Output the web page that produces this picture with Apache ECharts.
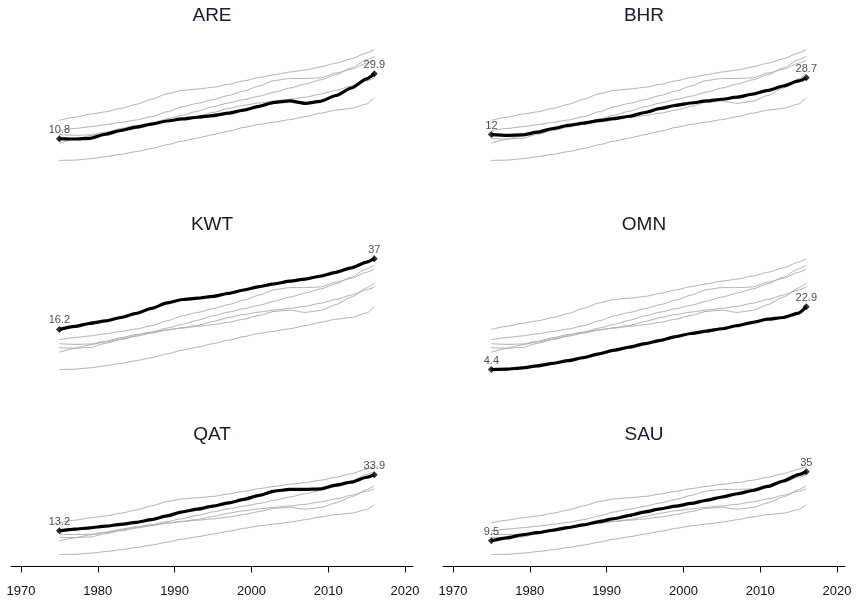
<!DOCTYPE html>
<html>
<head>
<meta charset="utf-8">
<script src="https://cdn.jsdelivr.net/npm/echarts@6/dist/echarts.min.js"></script>
<style>
  html, body { margin: 0; padding: 0; background: #fff; }
  #chart { width: 856px; height: 607px; }
</style>
</head>
<body>
<div id="chart"></div>
<script>
// Sample years shared by every country series
const years = [1975, 1977, 1979, 1981, 1983, 1985, 1987, 1989, 1991, 1993, 1995,
               1997, 1999, 2001, 2003, 2005, 2007, 2009, 2011, 2013, 2015, 2016];

const ARE = [10.8, 10.7, 10.9, 12.1, 13.2, 14.2, 15.1, 16.0, 16.6, 17.1, 17.6,
             18.3, 19.2, 20.3, 21.5, 21.9, 21.2, 21.8, 23.5, 25.7, 28.4, 29.9];
const BHR = [12.0, 11.8, 11.9, 12.7, 13.8, 14.7, 15.4, 16.1, 16.7, 17.4, 18.5,
             19.7, 20.6, 21.3, 21.9, 22.4, 23.0, 23.9, 25.0, 26.3, 27.8, 28.7];
const KWT = [16.2, 17.1, 18.0, 18.7, 19.7, 20.9, 22.4, 24.0, 25.0, 25.4, 25.9,
             26.8, 27.8, 28.8, 29.6, 30.4, 31.0, 31.9, 33.0, 34.3, 36.0, 37.0];
const OMN = [4.4, 4.5, 4.9, 5.5, 6.2, 7.0, 7.9, 9.0, 10.1, 11.0, 12.0,
             13.0, 14.1, 15.0, 15.7, 16.4, 17.3, 18.3, 19.2, 19.7, 21.0, 22.9];
const QAT = [13.2, 13.8, 14.3, 14.9, 15.6, 16.3, 17.3, 18.7, 20.2, 21.2, 22.3,
             23.5, 24.8, 26.3, 27.9, 28.5, 28.5, 28.7, 30.1, 31.2, 33.0, 33.9];
const SAU = [9.5, 10.6, 11.7, 12.5, 13.4, 14.4, 15.4, 16.6, 17.7, 18.9, 20.2,
             21.3, 22.3, 23.3, 24.5, 25.7, 26.9, 28.1, 29.6, 31.6, 34.0, 35.0];

const countries = ['ARE', 'BHR', 'KWT', 'OMN', 'QAT', 'SAU'];
const seriesByCountry = { ARE, BHR, KWT, OMN, QAT, SAU };

// Year ticks along the bottom axes
const tickYears = [1970, 1980, 1990, 2000, 2010, 2020];
const tickLabels = ['1970', '1980', '1990', '2000', '2010', '2020'];

// Panel geometry (3 rows x 2 columns)
const colLeft = [11, 443];
const colWidth = 402;
const rowTop = [39.4, 248.5, 458.3];
const rowHeight = [136, 136, 108.2];
const titleTop = [6.5, 215, 425.5];
const FONT = 'Liberation Sans, Arial, Helvetica, sans-serif';

const grids = [], xAxes = [], yAxes = [], titles = [], series = [];

countries.forEach((name, p) => {
  const row = Math.floor(p / 2), col = p % 2;
  const isBottom = row === 2;
  grids.push({ left: colLeft[col], top: rowTop[row], width: colWidth, height: rowHeight[row] });
  xAxes.push({
    gridIndex: p, type: 'value', min: 1968.7, max: 2021.04,
    show: true, offset: isBottom ? 9.5 : 0,
    axisLine: { show: isBottom, lineStyle: { color: '#000', width: 1 } },
    axisTick: { show: isBottom, customValues: tickYears, length: 6, lineStyle: { color: '#000' } },
    axisLabel: {
      show: isBottom, customValues: tickYears, margin: 9,
      fontFamily: FONT, fontSize: 13, color: '#111',
      formatter: v => tickLabels[tickYears.indexOf(Math.round(v))] ?? ''
    },
    splitLine: { show: false }
  });
  yAxes.push({ gridIndex: p, type: 'value', min: 0, max: 40, show: false });
  titles.push({
    text: name, left: colLeft[col] + colWidth / 2, top: titleTop[row], textAlign: 'center', padding: 0,
    textStyle: { fontFamily: FONT, fontSize: 19, fontWeight: 'normal', color: '#151a2c' }
  });

  // other countries in grey
  countries.forEach(other => {
    if (other === name) return;
    series.push({
      type: 'line', xAxisIndex: p, yAxisIndex: p, silent: true, symbol: 'none',
      smooth: 0.2, smoothMonotone: 'x',
      lineStyle: { color: '#b0b0b0', width: 1 }, z: 2,
      data: years.map((y, i) => [y, seriesByCountry[other][i]])
    });
  });

  // highlighted country in bold black
  const vals = seriesByCountry[name];
  series.push({
    type: 'line', xAxisIndex: p, yAxisIndex: p, silent: true, symbol: 'none',
    smooth: 0.2, smoothMonotone: 'x',
    lineStyle: { color: '#000', width: 3.2 }, z: 3,
    data: years.map((y, i) => [y, vals[i]])
  });

  // start and end values
  const last = years.length - 1;
  series.push({
    type: 'scatter', xAxisIndex: p, yAxisIndex: p, silent: true,
    symbol: 'diamond', symbolSize: 7, itemStyle: { color: '#000' }, z: 4,
    label: {
      show: true, position: 'top', distance: 0,
      fontFamily: FONT, fontSize: 11, color: '#222',
      formatter: d => String(d.value[1])
    },
    data: [[years[0], vals[0]], [years[last], vals[last]]]
  });
});

const chart = echarts.init(document.getElementById('chart'), null, { renderer: 'canvas' });
chart.setOption({
  animation: false,
  backgroundColor: '#fff',
  title: titles,
  grid: grids,
  xAxis: xAxes,
  yAxis: yAxes,
  series: series
});
</script>
</body>
</html>
